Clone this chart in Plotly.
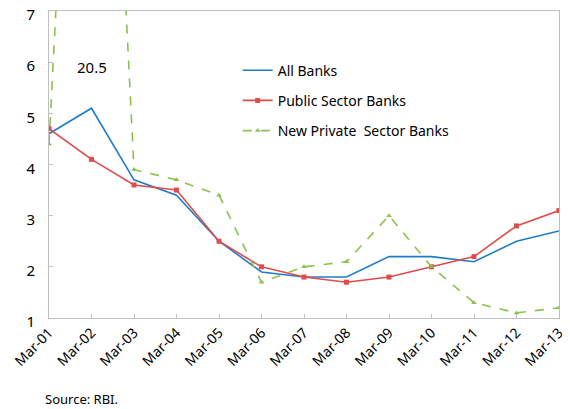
import plotly.graph_objects as go

categories = ["Mar-01", "Mar-02", "Mar-03", "Mar-04", "Mar-05", "Mar-06", "Mar-07",
              "Mar-08", "Mar-09", "Mar-10", "Mar-11", "Mar-12", "Mar-13"]
all_banks = [4.6, 5.1, 3.7, 3.4, 2.5, 1.9, 1.8, 1.8, 2.2, 2.2, 2.1, 2.5, 2.7]
public_sector = [4.7, 4.1, 3.6, 3.5, 2.5, 2.0, 1.8, 1.7, 1.8, 2.0, 2.2, 2.8, 3.1]
new_private = [4.4, 20.5, 3.9, 3.7, 3.4, 1.7, 2.0, 2.1, 3.0, 2.0, 1.3, 1.1, 1.2]
y_ticks = [1, 2, 3, 4, 5, 6, 7]

FONT = "Noto Sans"
fig = go.Figure()
fig.add_trace(go.Scatter(x=categories, y=all_banks, name="All Banks", mode="lines",
                         line=dict(color="#1F7DC6", width=1.6), legendgroup="a"))
fig.add_trace(go.Scatter(x=categories, y=public_sector, name="Public Sector Banks", mode="lines+markers",
                         line=dict(color="#E04B4B", width=1.6),
                         marker=dict(symbol="square", size=5, color="#E04B4B"), legendgroup="b"))
fig.add_trace(go.Scatter(x=categories, y=new_private, name="New Private  Sector Banks", mode="lines+markers",
                         line=dict(color="#8DC04F", width=1.6, dash="dash"),
                         marker=dict(symbol="triangle-up", size=5, color="#8DC04F"), legendgroup="c"))

fig.add_annotation(x=categories[1], y=5.9, text=str(new_private[1]), showarrow=False,
                   font=dict(family=FONT, size=15, color="#000000"))
fig.add_annotation(x=-0.012, xref="paper", y=-0.228, yref="paper", yanchor="top", xanchor="left",
                   text="Source: RBI.", showarrow=False,
                   font=dict(family=FONT, size=13, color="#000000"))

fig.update_layout(
    width=562, height=401,
    margin=dict(l=41, r=11, t=3, b=91),
    paper_bgcolor="white", plot_bgcolor="white",
    showlegend=True,
    legend=dict(x=0.37, y=0.858, xanchor="left", yanchor="top", bgcolor="rgba(0,0,0,0)",
                font=dict(family=FONT, size=14, color="#000000"),
                tracegroupgap=9, traceorder="grouped"),
    xaxis=dict(type="category", range=[0, 12], showline=True, linecolor="#BFBFBF", linewidth=1,
               mirror=True, ticks="inside", ticklen=4, tickcolor="#BFBFBF", tickangle=-45,
               showgrid=False, zeroline=False, automargin=False,
               tickfont=dict(family=FONT, size=14, color="#000000")),
    yaxis=dict(range=[1, 7], tickvals=y_ticks, showline=True, linecolor="#BFBFBF", linewidth=1,
               mirror=True, ticks="inside", ticklen=4, tickcolor="#BFBFBF",
               showgrid=False, zeroline=False, automargin=False, ticklabelstandoff=10,
               ticklabeloverflow="allow", ticklabelshift=4,
               tickfont=dict(family=FONT, size=15, color="#000000")),
)

fig.write_html("out.html")
